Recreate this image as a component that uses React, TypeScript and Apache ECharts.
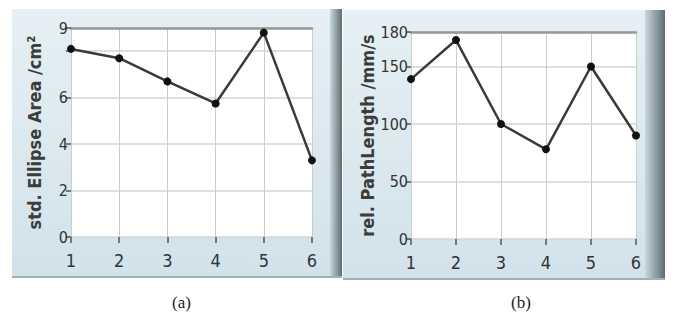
import React, { useEffect, useRef } from "react";
import * as echarts from "echarts";

const categories = ["1", "2", "3", "4", "5", "6"];
const ellipseArea = [8.1, 7.7, 6.7, 5.75, 8.8, 3.3];
const pathLength = [139, 173, 100, 78, 150, 90];
const ellipseAxis = { min: 0, max: 9, interval: 2 };
const pathAxis = { min: 0, max: 180, interval: 50 };
const ellipseUnlabeled = [8];
const titleA = "std. Ellipse Area /cm²";
const titleB = "rel. PathLength /mm/s";
const captions = ["(a)", "(b)"];

const condensed = "'DejaVu Sans Condensed', 'Liberation Sans Narrow', 'DejaVu Sans', sans-serif";

export default function App() {
  const ref = useRef<HTMLDivElement>(null);
  useEffect(() => {
    if (!ref.current) return;
    const chart = echarts.init(ref.current, null, { renderer: "svg" });
    const panelFill = () =>
      new echarts.graphic.LinearGradient(0, 0, 0, 1, [
        { offset: 0, color: "#e6f0f4" },
        { offset: 1, color: "#d2e2ea" },
      ]);
    const shadowFill = () =>
      new echarts.graphic.LinearGradient(0, 0, 1, 0, [
        { offset: 0, color: "#c9d8df" },
        { offset: 1, color: "#5d6c72" },
      ]);
    const grids = [
      { left: 71, top: 28, width: 241, height: 209 },
      { left: 411, top: 32, width: 225, height: 207 },
    ];
    const xAxisBase = (gi: number) => ({
      type: "category",
      gridIndex: gi,
      data: categories,
      boundaryGap: false,
      offset: 5,
      axisLine: { show: false },
      axisTick: { show: true, length: 6, alignWithLabel: true, lineStyle: { color: "#555", width: 1.5 } },
      axisLabel: { margin: 9, fontSize: 18, color: "#333", fontFamily: condensed },
      splitLine: { show: true, lineStyle: { color: "#cccccc", width: 1 } },
    });
    const topAxis = (gi: number) => ({
      type: "category",
      gridIndex: gi,
      data: categories,
      position: "top",
      boundaryGap: false,
      axisLine: { show: true, lineStyle: { color: "#8f9c9c", width: 2.5 } },
      axisTick: { show: false },
      axisLabel: { show: false },
      splitLine: { show: false },
    });
    const yAxisBase = (gi: number, ax: any, name: string, fmt: (v: number) => string) => ({
      type: "value",
      gridIndex: gi,
      min: ax.min,
      max: ax.max,
      interval: ax.interval,
      name,
      nameLocation: "middle",
      nameRotate: 90,
      nameGap: 28,
      nameTextStyle: { fontSize: 18, fontWeight: "bold", color: "#3c3c3c", fontFamily: condensed },
      axisLine: { show: false },
      axisTick: { show: true, length: 5, lineStyle: { color: "#555", width: 1.5 } },
      axisLabel: { margin: 3, fontSize: 16, color: "#333", fontFamily: condensed, formatter: fmt },
      splitLine: { show: true, lineStyle: { color: "#d4d4d4", width: 1.5 } },
    });
    const seriesBase = (gi: number, data: number[]) => ({
      type: "line",
      xAxisIndex: gi,
      yAxisIndex: gi,
      data,
      symbol: "circle",
      symbolSize: 8,
      lineStyle: { color: "#3a3a3a", width: 2.5 },
      itemStyle: { color: "#111" },
      z: 5,
    });
    chart.setOption({
      animation: false,
      backgroundColor: "#ffffff",
      grid: grids.map((g) => ({ ...g, show: true, backgroundColor: "#ffffff", borderWidth: 0, containLabel: false })),
      xAxis: [xAxisBase(0), xAxisBase(1), topAxis(0), topAxis(1)],
      yAxis: [
        yAxisBase(0, ellipseAxis, titleA, (v: number) => (ellipseUnlabeled.includes(v) ? "" : String(v))),
        yAxisBase(1, pathAxis, titleB, (v: number) => String(v)),
      ],
      series: [seriesBase(0, ellipseArea), seriesBase(1, pathLength)],
      graphic: [
        { type: "rect", z: -10, shape: { x: 12, y: 9, width: 320, height: 269 }, style: { fill: panelFill() } },
        { type: "rect", z: -10, shape: { x: 330, y: 9, width: 12, height: 269 }, style: { fill: shadowFill() } },
        { type: "rect", z: -10, shape: { x: 12, y: 276, width: 330, height: 2 }, style: { fill: "#9fb0b6" } },
        { type: "rect", z: -10, shape: { x: 343, y: 10, width: 302, height: 270 }, style: { fill: panelFill() } },
        { type: "rect", z: -10, shape: { x: 645, y: 10, width: 20, height: 270 }, style: { fill: shadowFill() } },
        { type: "rect", z: -10, shape: { x: 343, y: 278, width: 322, height: 2 }, style: { fill: "#9fb0b6" } },
        {
          type: "text", left: 172, top: 294,
          style: { text: captions[0], fontSize: 17, fill: "#222", fontFamily: "'Liberation Serif', serif" },
        },
        {
          type: "text", left: 511, top: 294,
          style: { text: captions[1], fontSize: 17, fill: "#222", fontFamily: "'Liberation Serif', serif" },
        },
      ],
    });
    return () => chart.dispose();
  }, []);
  return <div ref={ref} style={{ position: "fixed", left: 0, top: 0, width: 673, height: 320 }} />;
}
